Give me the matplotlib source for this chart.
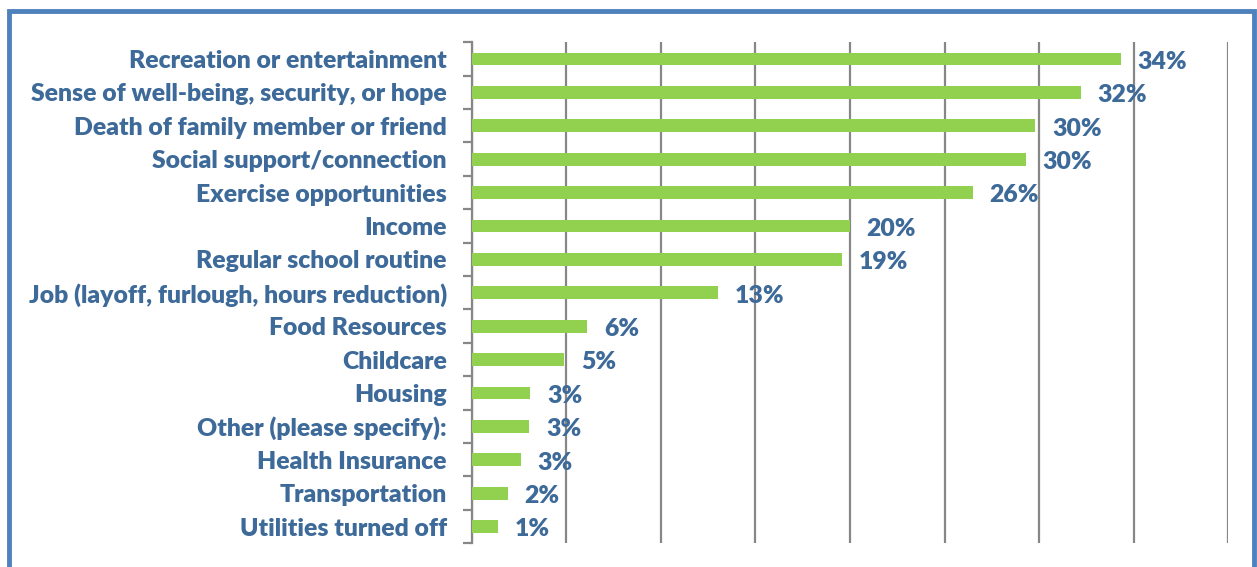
import matplotlib.pyplot as plt
import matplotlib.patches as patches
import numpy as np

# Survey data (top to bottom as shown)
categories = [
    "Recreation or entertainment",
    "Sense of well-being, security, or hope",
    "Death of family member or friend",
    "Social support/connection",
    "Exercise opportunities",
    "Income",
    "Regular school routine",
    "Job (layoff, furlough, hours reduction)",
    "Food Resources",
    "Childcare",
    "Housing",
    "Other (please specify):",
    "Health Insurance",
    "Transportation",
    "Utilities turned off",
]
values = [34.3, 32.2, 29.8, 29.3, 26.5, 20.0, 19.6, 13.0, 6.1, 4.9, 3.1, 3.05, 2.6, 1.9, 1.4]
value_labels = ["34%", "32%", "30%", "30%", "26%", "20%", "19%", "13%",
                "6%", "5%", "3%", "3%", "3%", "2%", "1%"]

text_color = '#3D6A99'
bar_color = '#92D050'
grid_color = '#878787'

plt.rcParams['font.family'] = ['Lato', 'DejaVu Sans']

fig = plt.figure(figsize=(12.57, 5.67), dpi=100)
ax = fig.add_axes([0.3753, 0.0418, 0.9772 - 0.3753, 0.9254 - 0.0418])

y = np.arange(len(categories))
ax.barh(y, values, height=0.38, color=bar_color, zorder=3)

ax.set_xlim(0, 40)
ax.set_ylim(len(categories) - 0.5, -0.5)

# vertical gridlines every 5%
ax.set_xticks(np.arange(0, 41, 5))
ax.xaxis.grid(True, color=grid_color, lw=1.6, zorder=1)
ax.tick_params(axis='x', length=0, labelbottom=False)

# category labels, tick marks between categories
ax.set_yticks(y)
ax.set_yticklabels(categories, fontsize=17.8, fontweight='heavy', color=text_color)
ax.tick_params(axis='y', which='major', length=0, pad=18)
ax.set_yticks(np.arange(-0.5, len(categories), 1), minor=True)
ax.tick_params(axis='y', which='minor', length=6.5, width=1.6, color=grid_color, direction='out')

for side in ['top', 'right', 'bottom']:
    ax.spines[side].set_visible(False)
ax.spines['left'].set_color(grid_color)
ax.spines['left'].set_linewidth(1.6)

for yi, v, lab in zip(y, values, value_labels):
    ax.annotate(lab, xy=(v, yi), xytext=(12, -2), textcoords='offset points',
                ha='left', va='center', fontsize=17.8, fontweight='heavy', color=text_color,
                zorder=4)

# blue frame around the figure (bottom edge cropped)
fig.patches.append(patches.Rectangle((0.0075, -0.05), 0.99, 1.03, transform=fig.transFigure,
                                     fill=False, edgecolor='#4F81BD', lw=3.5))

fig.savefig('out.png', dpi=100)
plt.close(fig)
